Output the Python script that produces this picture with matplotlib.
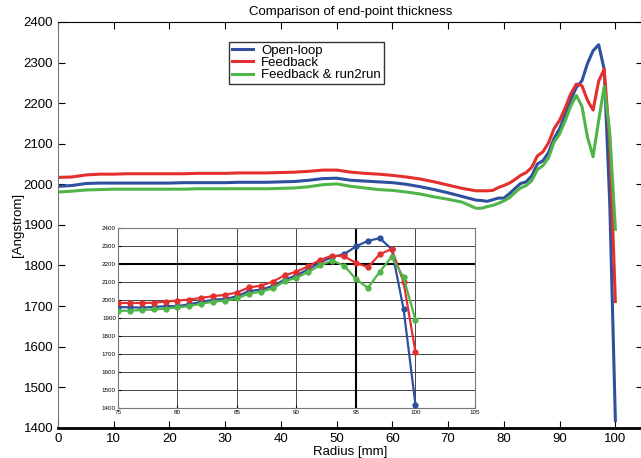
import matplotlib.pyplot as plt

plt.rcParams['font.family'] = ['Liberation Sans', 'DejaVu Sans']

# Radius positions [mm] and end-point thickness [Angstrom] for each control scheme
radius = [0, 2.5, 5, 7.5, 10, 12.5, 15, 17.5, 20, 22.5, 25, 27.5, 30, 32.5, 35,
          37.5, 40, 42.5, 45, 47.5, 50, 52.5, 55, 57.5, 60, 62.5, 65, 67.5, 70, 72.5,
          75, 76, 77, 78, 79, 80, 81, 82, 83, 84, 85, 86, 87, 88, 89, 90,
          91, 92, 93, 94, 95, 96, 97, 98, 99, 100]

open_loop = [1995, 1997, 2002, 2003, 2003, 2003, 2003, 2003, 2003, 2004, 2004, 2004,
             2004, 2005, 2005, 2005, 2006, 2007, 2010, 2014, 2015, 2010, 2008, 2006,
             2004, 2000, 1994, 1987, 1979, 1970,
             1961, 1960, 1958, 1962, 1966, 1966, 1977, 1990, 2002, 2006, 2021, 2050,
             2058, 2078, 2113, 2137, 2172, 2209, 2239, 2255, 2298, 2329, 2344, 2283,
             1950, 1418]

feedback = [2017, 2018, 2023, 2025, 2025, 2026, 2026, 2026, 2026, 2026, 2027, 2027,
            2027, 2028, 2028, 2028, 2029, 2030, 2032, 2035, 2035, 2030, 2027, 2025,
            2022, 2018, 2013, 2006, 1998, 1990,
            1984, 1984, 1984, 1985, 1992, 1997, 2003, 2012, 2022, 2029, 2042, 2070,
            2080, 2102, 2137, 2158, 2188, 2223, 2247, 2243, 2207, 2183, 2254, 2284,
            2100, 1711]

feedback_r2r = [1981, 1983, 1986, 1987, 1988, 1988, 1988, 1988, 1988, 1988, 1989, 1989,
                1989, 1989, 1989, 1989, 1990, 1991, 1994, 1999, 2001, 1995, 1991, 1987,
                1985, 1981, 1976, 1969, 1963, 1956,
                1941, 1941, 1945, 1948, 1953, 1959, 1967, 1980, 1991, 1997, 2009, 2036,
                2046, 2065, 2104, 2124, 2157, 2193, 2219, 2192, 2116, 2068, 2157, 2241,
                2126, 1889]

labels = ['Open-loop', 'Feedback', 'Feedback & run2run']
colors = ['#2f4f9f', '#e2302e', '#4fb548']

fig = plt.figure(figsize=(6.41, 4.58), dpi=100)
ax = fig.add_axes([0.0905, 0.066, 0.913, 0.886])

for y, lab, c in zip([open_loop, feedback, feedback_r2r], labels, colors):
    ax.plot(radius, y, color=c, lw=2.2, label=lab)

ax.set_xlim(0, 105)
ax.set_ylim(1400, 2400)
ax.set_xticks(range(0, 101, 10))
ax.set_yticks(range(1400, 2401, 100))
ax.tick_params(direction='in', top=True, right=True, length=5, labelsize=9.5)
ax.spines['bottom'].set_linewidth(2)
ax.spines['left'].set_color('#777777')
ax.set_title('Comparison of end-point thickness', fontsize=9.5, pad=5)
ax.set_xlabel('Radius [mm]', fontsize=9.5, labelpad=1)
ax.set_ylabel('[Angstrom]', fontsize=9.5, labelpad=0)

leg = ax.legend(loc='upper left', bbox_to_anchor=(0.293, 0.951), borderaxespad=0,
                fontsize=9.5, frameon=True, fancybox=False, handlelength=1.6,
                borderpad=0.2, labelspacing=0.0, handletextpad=0.6)
leg.get_frame().set_edgecolor('black')
leg.get_frame().set_linewidth(1)

# zoomed view of the wafer edge
ins = fig.add_axes([0.184, 0.109, 0.557, 0.393])
edge = [i for i, r in enumerate(radius) if r >= 75]
for y, c in zip([open_loop, feedback, feedback_r2r], colors):
    ins.plot([radius[i] for i in edge], [y[i] for i in edge], color=c, lw=1.6,
             marker='o', ms=3.5, zorder=3)

ins.set_xlim(75, 105)
ins.set_ylim(1400, 2400)
ins.set_xticks(range(75, 106, 5))
ins.set_yticks(range(1400, 2401, 100))
ins.grid(True, color='#444444', lw=0.7)
ins.axvline(95, color='black', lw=1.5, zorder=2)
ins.axhline(2200, color='black', lw=1.5, zorder=2)
ins.tick_params(direction='in', length=2, labelsize=4.5, pad=1.5)
for s in ins.spines.values():
    s.set_color('#777777')

plt.savefig('out.png', dpi=100)
